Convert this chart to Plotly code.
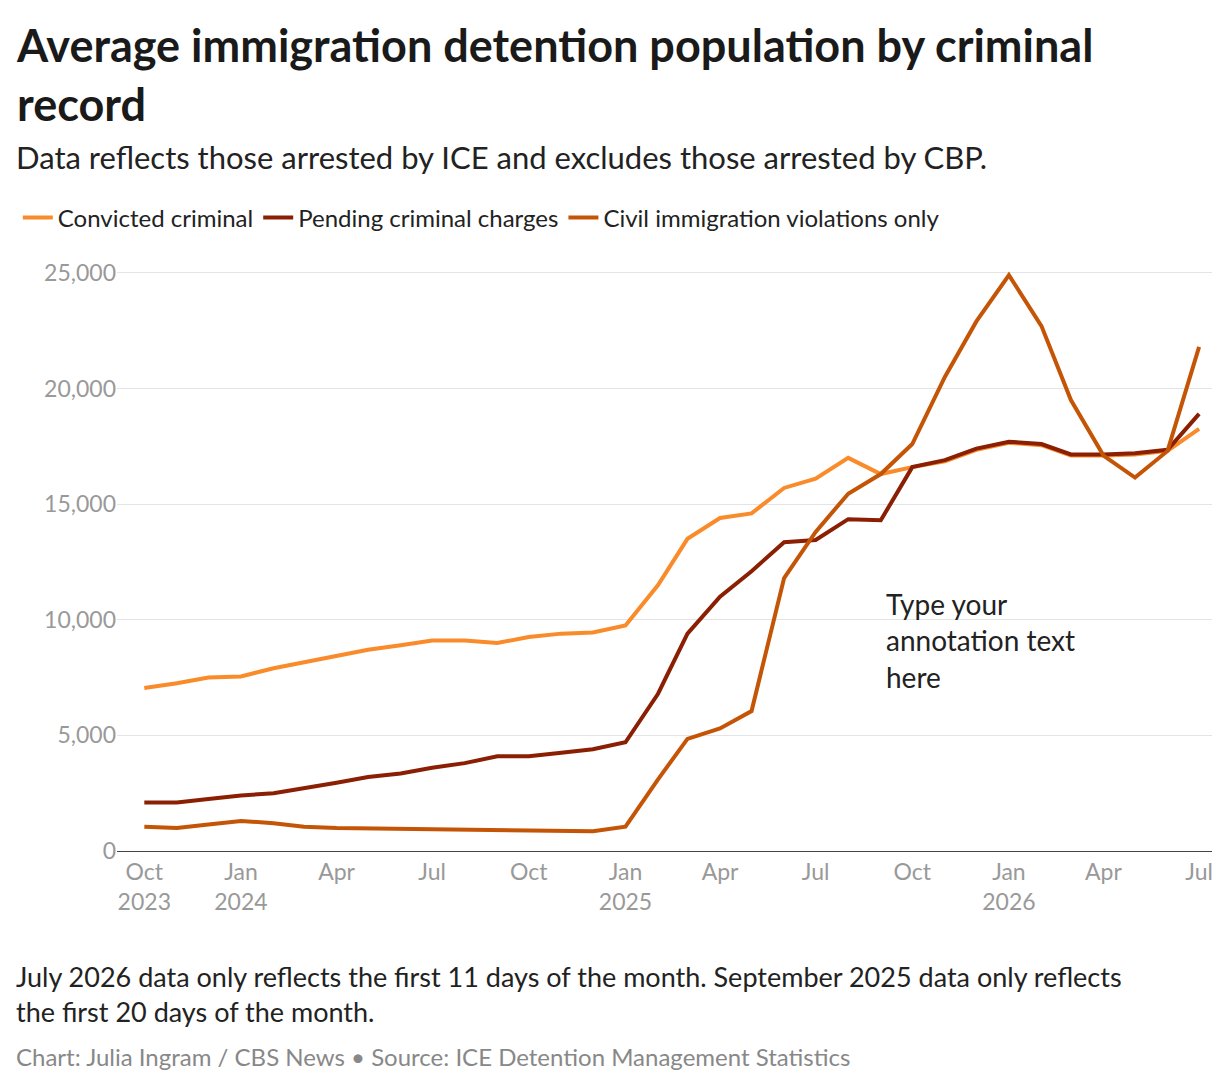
import pandas as pd
import plotly.graph_objects as go

months = pd.date_range("2023-10-01", "2026-07-01", freq="MS")

convicted = [7050, 7250, 7500, 7550, 7900, 8150, 8450, 8700, 8900, 9100,
             9100, 9000, 9250, 9400, 9450, 9750, 11500, 13500, 14400, 14600,
             15700, 16100, 17000, 16300, 16600, 16850, 17350, 17650, 17550, 17100,
             17100, 17150, 17300, 18250]
pending = [2100, 2100, 2250, 2400, 2500, 2700, 2950, 3200, 3350, 3600,
           3800, 4100, 4100, 4250, 4400, 4700, 6800, 9400, 11000, 12100,
           13350, 13450, 14350, 14300, 16600, 16900, 17400, 17700, 17600, 17150,
           17150, 17200, 17350, 18900]
civil = [1050, 1000, 1150, 1300, 1200, 1050, 1000, 980, 950, 920,
         900, 880, 850, 850, 850, 1050, 3100, 4850, 5300, 6050,
         11800, 13800, 15450, 16300, 17600, 20500, 22900, 24900, 22700, 19500,
         17100, 16150, 17300, 21800]

tick_dates = ["2023-10-01", "2024-01-01", "2024-04-01", "2024-07-01", "2024-10-01",
              "2025-01-01", "2025-04-01", "2025-07-01", "2025-10-01", "2026-01-01",
              "2026-04-01", "2026-07-01"]
tick_text = ["Oct<br>2023", "Jan<br>2024", "Apr", "Jul", "Oct", "Jan<br>2025",
             "Apr", "Jul", "Oct", "Jan<br>2026", "Apr", "Jul"]

series = [("Convicted criminal", convicted, "#f98b2a"),
          ("Pending criminal charges", pending, "#8a1f03"),
          ("Civil immigration violations only", civil, "#c55506")]

fig = go.Figure()
for name, vals, col in series:
    fig.add_trace(go.Scatter(x=months, y=vals, name=name, mode="lines",
                             line=dict(color=col, width=4)))

W, H = 1220, 1086
L, R, T, B = 100, 10, 251, 243
FONT = "Lato, 'Noto Sans', sans-serif"


def px_x(x):
    return (x - L) / (W - L - R)


def px_y(y):
    return (H - B - y) / (H - T - B)


fig.update_layout(
    width=W, height=H,
    margin=dict(l=L, r=R, t=T, b=B),
    plot_bgcolor="white", paper_bgcolor="white",
    font=dict(family=FONT, size=24, color="#222"),
    showlegend=True,
    legend=dict(orientation="h", x=px_x(0), y=px_y(210), xanchor="left", yanchor="middle",
                font=dict(size=24, color="#222"), traceorder="normal"),
    xaxis=dict(range=["2023-09-05", "2026-07-19"], tickvals=tick_dates, ticktext=tick_text,
               showgrid=False, showline=True, linecolor="#444", linewidth=1,
               tickfont=dict(size=23, color="#999"), ticks=""),
    yaxis=dict(range=[0, 25600], tickvals=[0, 5000, 10000, 15000, 20000, 25000],
               tickformat=",", showgrid=True, gridcolor="#e4e4e4", zeroline=False,
               tickfont=dict(size=23, color="#999"), ticks=""),
    hovermode="x unified",
)

texts = [
    (20, "<b>Average immigration detention population by criminal<br>record</b>", 45, "#1a1a1a"),
    (140, "Data reflects those arrested by ICE and excludes those arrested by CBP.", 31, "#222"),
    (962, "July 2026 data only reflects the first 11 days of the month. September 2025 data only reflects<br>the first 20 days of the month.", 27, "#222"),
    (1044, "Chart: Julia Ingram / CBS News • Source: ICE Detention Management Statistics", 24, "#888"),
]
for ytop, txt, size, col in texts:
    fig.add_annotation(xref="paper", yref="paper", x=px_x(12), y=px_y(ytop),
                       xshift=-16, yshift=12,
                       text=txt, showarrow=False, xanchor="left", yanchor="top",
                       align="left", font=dict(size=size, color=col))

fig.add_annotation(x="2025-10-01", y=11500, text="Type your<br>annotation text<br>here",
                   showarrow=False, xanchor="left", yanchor="top", align="left",
                   xshift=-28, font=dict(size=28, color="#222"))

fig.write_html("out.html")
